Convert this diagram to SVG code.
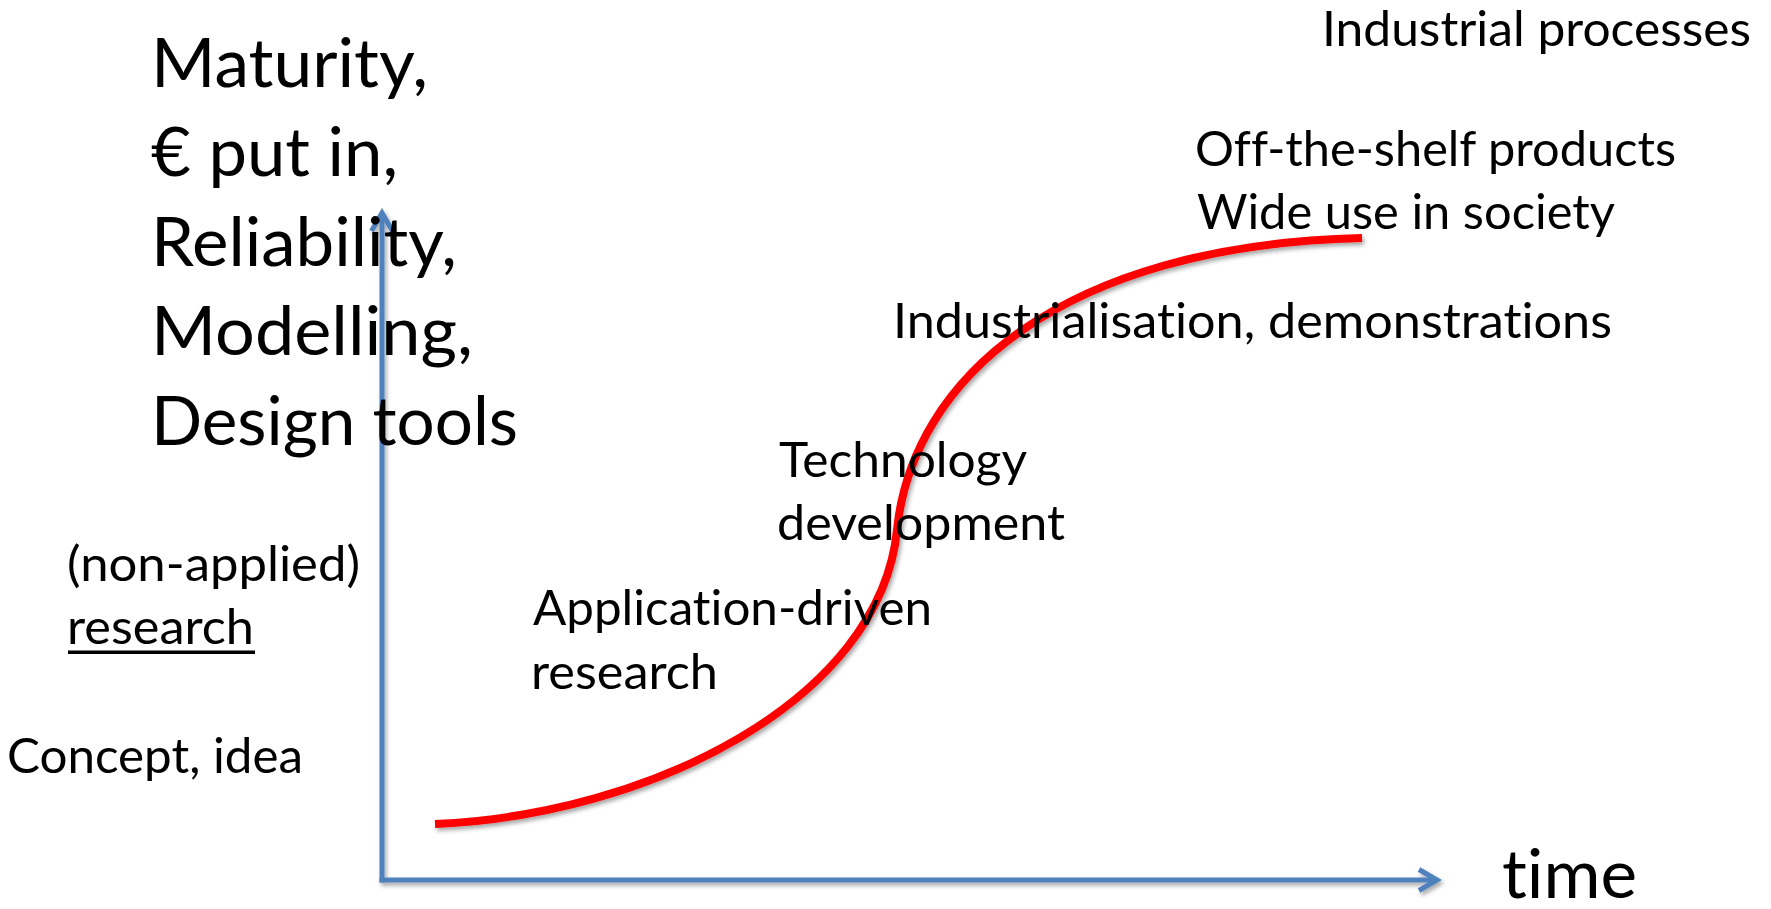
<svg xmlns="http://www.w3.org/2000/svg" width="1771" height="909" viewBox="0 0 1771 909">
  <style>
    text { font-family: Lato, "Liberation Sans", sans-serif; fill: #000; font-variant-ligatures: none; font-feature-settings: "liga" 0, "clig" 0; }
    .big { font-size: 67px; }
    .lbl { font-size: 49px; }
    .axis { fill: none; stroke: #4F81BD; stroke-width: 5; }
    .curve { fill: none; stroke: #FF0000; stroke-width: 8; stroke-linecap: butt; }
  </style>
  <defs>
    <filter id="shadow" filterUnits="userSpaceOnUse" x="0" y="0" width="1771" height="909">
      <feDropShadow dx="2" dy="3" stdDeviation="2" flood-color="#000" flood-opacity="0.35"/>
    </filter>
    <marker id="arrow" markerUnits="userSpaceOnUse" viewBox="-24 -16 32 32" markerWidth="32" markerHeight="32" refX="-5" refY="0" orient="auto">
      <path d="M -18,-10.5 L 0,0 L -18,10.5" fill="none" stroke="#4F81BD" stroke-width="5" stroke-linejoin="miter"/>
    </marker>
  </defs>

  <rect width="1771" height="909" fill="#fff"/>

  <!-- axes and S-curve -->
  <g id="connectors" filter="url(#shadow)">
    <path id="y-axis" class="axis" d="M 382,882.5 L 382,218" marker-end="url(#arrow)"/>
    <path id="x-axis" class="axis" d="M 379.5,880 L 1432,880" marker-end="url(#arrow)"/>
    <path id="s-curve" class="curve" d="M 435,824 C 650,815 880,700 897,530 C 912,380 1060,245 1362,238"/>
  </g>

  <!-- vertical axis title -->
  <g id="y-title">
    <text class="big" x="151" y="87" textLength="277" lengthAdjust="spacingAndGlyphs">Maturity,</text>
    <text class="big" x="151" y="176" textLength="247" lengthAdjust="spacingAndGlyphs">€ put in,</text>
    <text class="big" x="151" y="266" textLength="306" lengthAdjust="spacingAndGlyphs">Reliability,</text>
    <text class="big" x="151" y="355" textLength="322" lengthAdjust="spacingAndGlyphs">Modelling,</text>
    <text class="big" x="151" y="445" textLength="367" lengthAdjust="spacingAndGlyphs">Design tools</text>
  </g>

  <g id="x-title">
    <text class="big" x="1502" y="898" textLength="135" lengthAdjust="spacingAndGlyphs">time</text>
  </g>

  <!-- stage labels -->
  <g id="concept">
    <text class="lbl" x="7" y="773" textLength="296" lengthAdjust="spacingAndGlyphs">Concept, idea</text>
  </g>

  <g id="basic-research">
    <text class="lbl" x="67" y="581" textLength="293" lengthAdjust="spacingAndGlyphs">(non-applied)</text>
    <text class="lbl" x="67" y="644" textLength="187" lengthAdjust="spacingAndGlyphs">research</text>
    <rect x="68" y="650.5" width="187" height="3.5" fill="#000"/>
  </g>

  <g id="applied-research">
    <text class="lbl" x="533" y="625" textLength="399" lengthAdjust="spacingAndGlyphs">Application-driven</text>
    <text class="lbl" x="531" y="689" textLength="187" lengthAdjust="spacingAndGlyphs">research</text>
  </g>

  <g id="technology">
    <text class="lbl" x="779" y="477" textLength="248" lengthAdjust="spacingAndGlyphs">Technology</text>
    <text class="lbl" x="777" y="540" textLength="288" lengthAdjust="spacingAndGlyphs">development</text>
  </g>

  <g id="industrialisation">
    <text class="lbl" x="893" y="338" textLength="719" lengthAdjust="spacingAndGlyphs">Industrialisation, demonstrations</text>
  </g>

  <g id="products">
    <text class="lbl" x="1195" y="166" textLength="481" lengthAdjust="spacingAndGlyphs">Off-the-shelf products</text>
    <text class="lbl" x="1197" y="229" textLength="418" lengthAdjust="spacingAndGlyphs">Wide use in society</text>
  </g>

  <g id="processes">
    <text class="lbl" x="1322" y="46" textLength="429" lengthAdjust="spacingAndGlyphs">Industrial processes</text>
  </g>
</svg>
